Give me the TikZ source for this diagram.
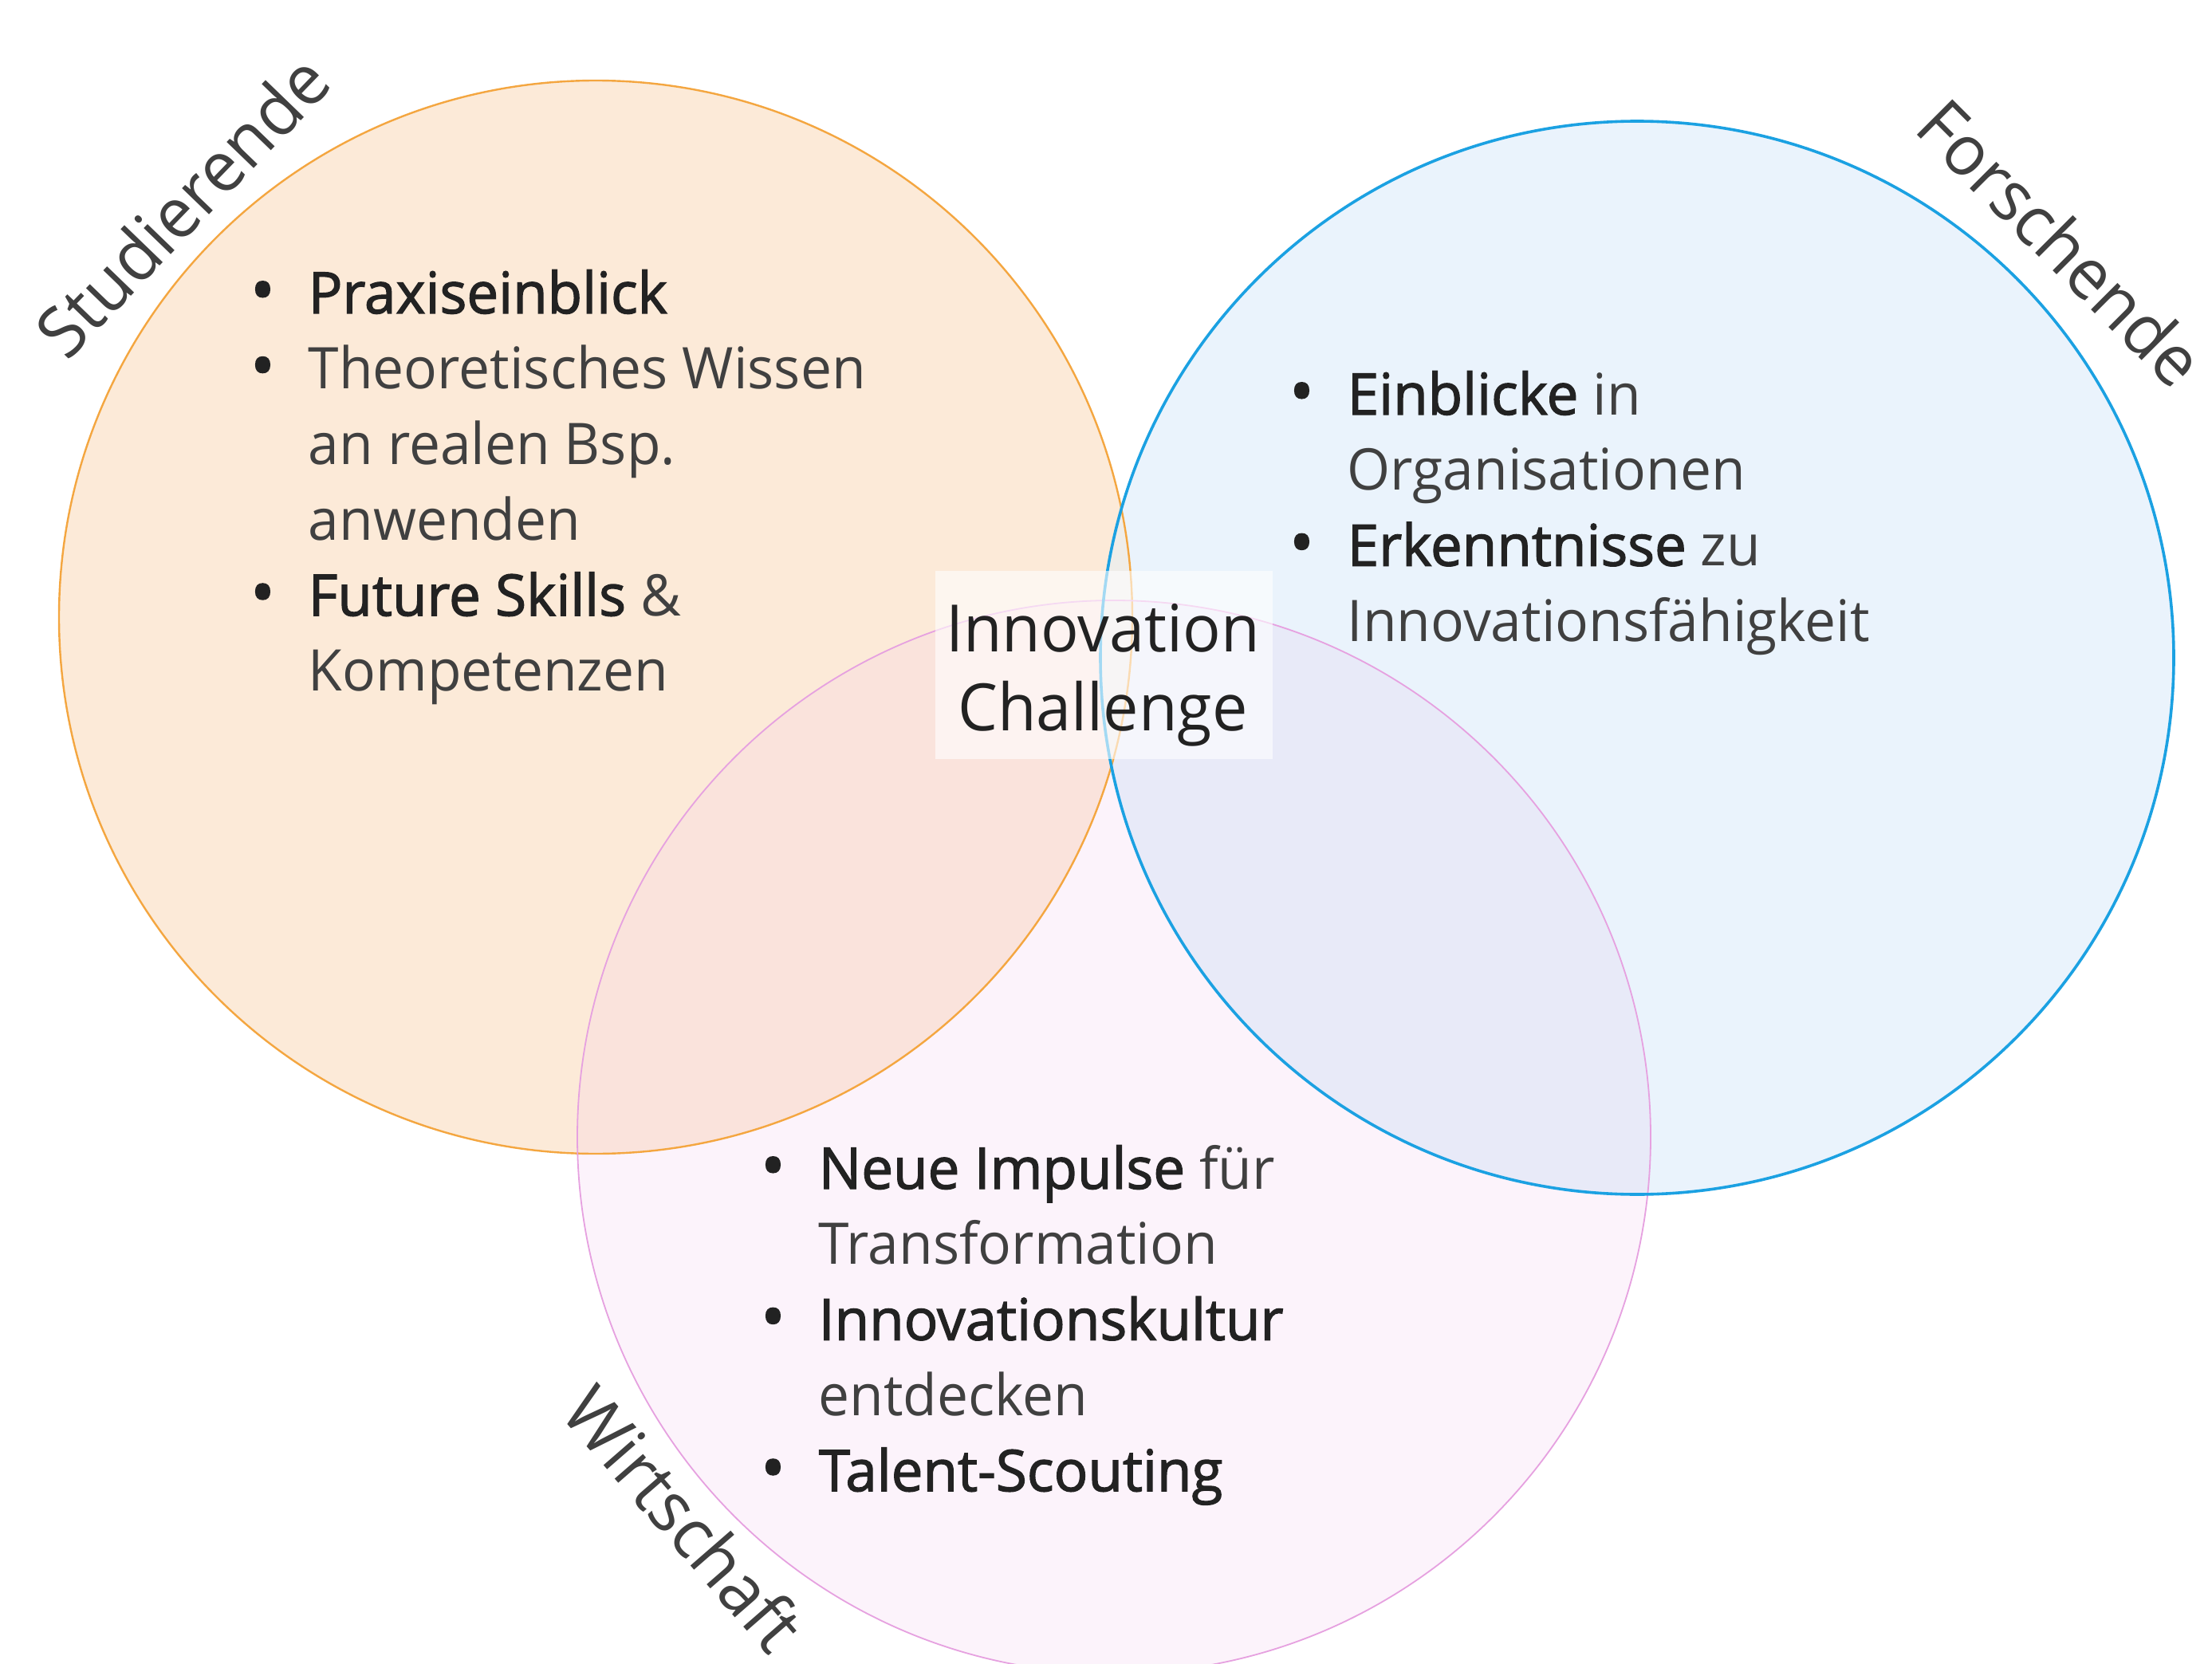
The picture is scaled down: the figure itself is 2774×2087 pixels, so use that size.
\documentclass[tikz,border=0pt]{standalone}
\usepackage{fontspec}
\setmainfont{Open Sans}[FakeStretch=0.965, BoldFont={Open Sans}, BoldFeatures={FakeBold=1.8, FakeStretch=0.985}]
\definecolor{orfill}{HTML}{FCEAD8}
\definecolor{blfill}{HTML}{EAF3FC}
\definecolor{pkfill}{HTML}{FCF3FB}
\definecolor{opfill}{HTML}{FAE3DC}
\definecolor{bpfill}{HTML}{E8EAF8}
\definecolor{obfill}{HTML}{EFEDE9}
\definecolor{obpfill}{HTML}{EDE6E6}
\definecolor{orline}{HTML}{F4A640}
\definecolor{blline}{HTML}{1BA1E2}
\definecolor{pkline}{HTML}{E6A1E0}
\definecolor{txtreg}{HTML}{404040}
\definecolor{txtbold}{HTML}{222222}
\newcommand{\bul}[1]{\hbox{\llap{{\color{txtbold}\bfseries\scalebox{1.15}{\textbullet}}\hspace{10.5pt}}#1}}
\newcommand{\cnt}[1]{\hbox{#1}}
\newcommand{\bb}[1]{{\color{txtbold}\bfseries #1}}
\tikzset{
  listtext/.style={anchor=base west, inner sep=0pt, text=txtreg, font=\fontsize{18pt}{23.7pt}\selectfont},
  setlabel/.style={inner sep=0pt, text=txtreg, font=\fontsize{22pt}{26pt}\selectfont},
  boxtext/.style={inner sep=0pt, text=txtbold, font=\fontsize{20.5pt}{24.8pt}\selectfont, anchor=base},
}
\begin{document}
\begin{tikzpicture}[x=0.25pt,y=-0.25pt]
\useasboundingbox (0,0) rectangle (2774,2087);
\fill[white] (0,0) rectangle (2774,2087);
\coordinate (co) at (747,774);
\coordinate (cb) at (2053,825);
\coordinate (cp) at (1397,1426);
\def\rad{168.25pt}
% base fills
\fill[orfill] (co) circle[radius=\rad];
\fill[blfill] (cb) circle[radius=\rad];
\fill[pkfill] (cp) circle[radius=\rad];
% overlaps
\begin{scope}
  \clip (co) circle[radius=\rad];
  \fill[opfill] (cp) circle[radius=\rad];
  \fill[obfill] (cb) circle[radius=\rad];
  \clip (cb) circle[radius=\rad];
  \fill[obpfill] (cp) circle[radius=\rad];
\end{scope}
\begin{scope}
  \clip (cb) circle[radius=\rad];
  \fill[bpfill] (cp) circle[radius=\rad];
  \clip (co) circle[radius=\rad];
  \fill[obpfill] (cp) circle[radius=\rad];
\end{scope}
% outlines
\draw[orline, line width=0.6pt] (co) circle[radius=\rad];
\draw[pkline, line width=0.45pt] (cp) circle[radius=\rad];
\draw[blline, line width=0.9pt] (cb) circle[radius=\rad];
% centre box
\fill[white, opacity=0.6] (1173,716) rectangle (1596,952);
\node[boxtext] (ic1) at (1383,817) {Innovation};
\node[boxtext] (ic2) at (1383,916) {Challenge};
% lists
\node[listtext] (stud) at (386,393) {\vtop{\baselineskip=23.7pt
  \bul{\bb{Praxiseinblick}}
  \bul{Theoretisches Wissen}
  \cnt{an realen Bsp.}
  \cnt{anwenden}
  \bul{\bb{Future Skills} \&}
  \cnt{Kompetenzen}}};
\node[listtext] (forsch) at (1689,520) {\vtop{\baselineskip=23.7pt
  \bul{\bb{Einblicke} in}
  \cnt{Organisationen}
  \bul{\bb{Erkenntnisse} zu}
  \cnt{Innovationsfähigkeit}}};
\node[listtext] (wirt) at (1026,1491) {\vtop{\baselineskip=23.7pt
  \bul{\bb{Neue Impulse} für}
  \cnt{Transformation}
  \bul{\bb{Innovationskultur}}
  \cnt{entdecken}
  \bul{\bb{Talent-Scouting}}}};
% set labels
\node[setlabel, rotate=46] (lstud) at (228,258) {Studierende};
\node[setlabel, rotate=-45] (lforsch) at (2585,304) {Forschende};
\node[setlabel, rotate=-49] (lwirt) at (858,1904) {Wirtschaft};
\end{tikzpicture}
\end{document}
